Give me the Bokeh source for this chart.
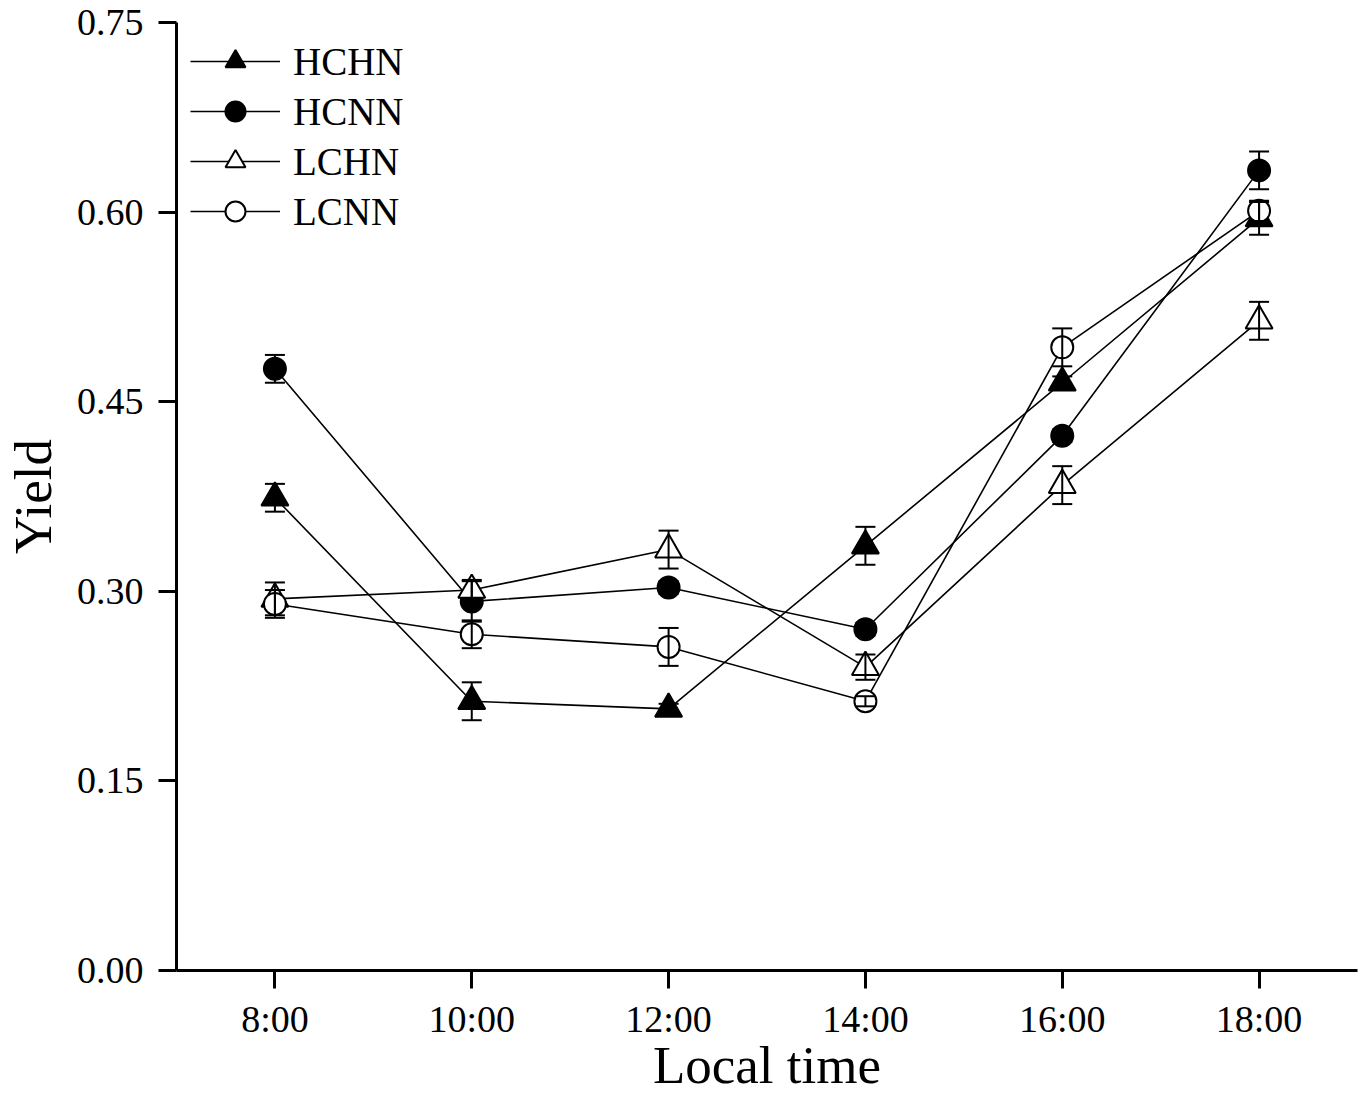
from bokeh.plotting import figure
from bokeh.models import (ColumnDataSource, Range1d, FixedTicker, Whisker, TeeHead,
                          Legend, LegendItem)
from bokeh.embed import file_html
from bokeh.resources import INLINE

# ---- data ----
times = [8, 10, 12, 14, 16, 18]
time_labels = ["8:00", "10:00", "12:00", "14:00", "16:00", "18:00"]
y_ticks = [0.0, 0.15, 0.30, 0.45, 0.60, 0.75]
y_tick_labels = ["0.00", "0.15", "0.30", "0.45", "0.60", "0.75"]
x_title = "Local time"
y_title = "Yield"

series_names = ["HCHN", "HCNN", "LCHN", "LCNN"]
HCHN = [0.374, 0.213, 0.207, 0.336, 0.465, 0.595]
HCHN_err = [0.011, 0.015, 0.004, 0.015, 0.005, 0.013]
HCNN = [0.476, 0.292, 0.303, 0.270, 0.423, 0.633]
HCNN_err = [0.011, 0.016, 0.005, 0.005, 0.005, 0.015]
LCHN = [0.294, 0.301, 0.333, 0.240, 0.384, 0.514]
LCHN_err = [0.013, 0.008, 0.015, 0.010, 0.015, 0.015]
LCNN = [0.290, 0.266, 0.256, 0.213, 0.493, 0.601]
LCNN_err = [0.011, 0.011, 0.015, 0.004, 0.015, 0.008]

FONT = "Liberation Serif"

p = figure(width=1363, height=1096,
           x_range=Range1d(7, 19), y_range=Range1d(0, 0.75),
           output_backend="svg", toolbar_location=None,
           min_border_left=176, min_border_right=6,
           min_border_top=22, min_border_bottom=126)

p.outline_line_color = None
p.xgrid.visible = False
p.ygrid.visible = False
p.background_fill_color = "white"

for ax in (p.xaxis[0], p.yaxis[0]):
    ax.axis_line_width = 3
    ax.axis_line_color = "black"
    ax.major_tick_line_width = 3
    ax.major_tick_line_color = "black"
    ax.major_tick_in = 0
    ax.major_tick_out = 18
    ax.minor_tick_line_color = None
    ax.major_label_text_font = FONT
    ax.major_label_text_font_size = "38px"
    ax.major_label_text_color = "black"
    ax.axis_label_text_font = FONT
    ax.axis_label_text_font_size = "53px"
    ax.axis_label_text_font_style = "normal"
    ax.axis_label_text_color = "black"

p.xaxis.ticker = FixedTicker(ticks=times)
p.xaxis.major_label_overrides = {t: l for t, l in zip(times, time_labels)}
p.xaxis.axis_label = x_title
p.xaxis.major_label_standoff = 9
p.xaxis.axis_label_standoff = -7

p.yaxis.ticker = FixedTicker(ticks=y_ticks)
p.yaxis.major_label_overrides = {t: l for t, l in zip(y_ticks, y_tick_labels)}
p.yaxis.axis_label = y_title
p.yaxis.major_label_standoff = 15
p.yaxis.axis_label_standoff = 12

series = [
    ("HCHN", HCHN, HCHN_err, "triangle", "black", 27),
    ("HCNN", HCNN, HCNN_err, "circle", "black", 22),
    ("LCHN", LCHN, LCHN_err, "triangle", "white", 27),
    ("LCNN", LCNN, LCNN_err, "circle", "white", 22),
]

items = []
for name, vals, errs, marker, fill, size in series:
    src = ColumnDataSource(data=dict(
        x=times, y=vals,
        upper=[v + e for v, e in zip(vals, errs)],
        lower=[v - e for v, e in zip(vals, errs)],
    ))
    lr = p.line("x", "y", source=src, line_color="black", line_width=1.6)
    sr = p.scatter("x", "y", source=src, marker=marker, size=size,
                   fill_color=fill, line_color="black", line_width=2)
    w = Whisker(source=src, base="x", upper="upper", lower="lower",
                dimension="height", line_color="black", line_width=2,
                upper_head=TeeHead(size=20, line_width=2, line_color="black"),
                lower_head=TeeHead(size=20, line_width=2, line_color="black"),
                level="glyph")
    p.add_layout(w)
    items.append(LegendItem(label=name, renderers=[lr, sr]))

legend = Legend(items=items, location="top_left",
                glyph_width=90, glyph_height=50, spacing=0,
                padding=0, margin=14, label_standoff=13,
                label_text_font=FONT, label_text_font_size="39px",
                label_text_color="black",
                border_line_color=None, background_fill_alpha=0)
p.add_layout(legend, "center")

open("out.html", "w").write(file_html(p, INLINE))
